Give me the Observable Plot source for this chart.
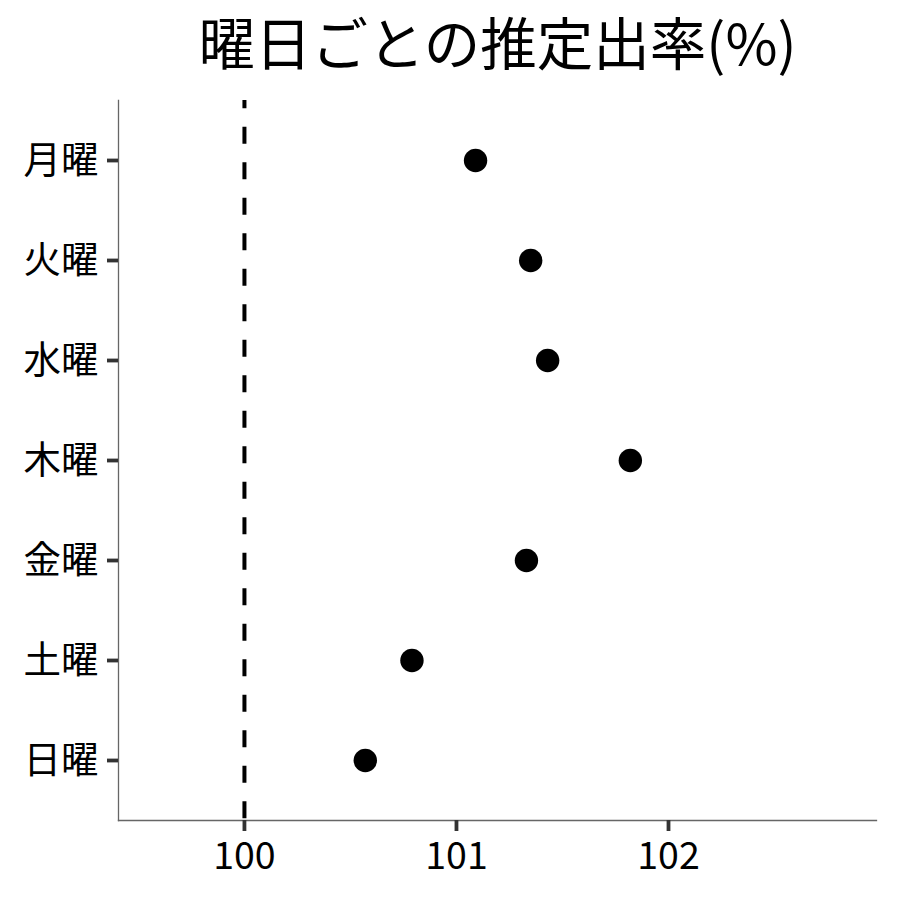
<!DOCTYPE html>
<html>
<head>
<meta charset="utf-8">
<script src="https://cdn.jsdelivr.net/npm/d3@7"></script>
<script src="https://cdn.jsdelivr.net/npm/@observablehq/plot@0.6"></script>
<style>
  html, body { margin: 0; padding: 0; background: #fff; }
  #chart svg { display: block; overflow: visible; }
</style>
</head>
<body>
<div id="chart"></div>
<script>
const titleText = "曜日ごとの推定出率(%)";
const days = ["月曜", "火曜", "水曜", "木曜", "金曜", "土曜", "日曜"];
const rates = [101.09, 101.35, 101.43, 101.82, 101.33, 100.79, 100.57];
const xTicks = [100, 101, 102];
const xDomain = [99.406, 102.981];
const refValue = [100];

const data = days.map((d, i) => ({day: d, rate: rates[i]}));
const font = "'Noto Sans CJK JP', 'Noto Sans', sans-serif";

const chart = Plot.plot({
  width: 900,
  height: 900,
  marginTop: 100,
  marginBottom: 80,
  marginLeft: 118,
  marginRight: 24,
  style: {fontFamily: font, background: "#fff", color: "#000"},
  x: {domain: xDomain, ticks: xTicks, label: null},
  y: {type: "point", domain: days, padding: 0.6, label: null},
  marks: [
    Plot.frame({anchor: "left", stroke: "#666", strokeWidth: 1.3}),
    Plot.frame({anchor: "bottom", stroke: "#666", strokeWidth: 1.3}),
    Plot.axisX({ticks: xTicks, tickFormat: d3.format("d"), tickSize: 11, tickPadding: 11, fontSize: 37.5, stroke: "#333", strokeWidth: 3.8, fill: "#000", label: null}),
    Plot.axisY({tickSize: 11, tickPadding: 9, fontSize: 37.5, stroke: "#333", strokeWidth: 3.8, fill: "#000", label: null}),
    Plot.ruleX(refValue, {stroke: "#000", strokeWidth: 4, strokeDasharray: "17,18.5", strokeDashoffset: 8.8}),
    Plot.dot(data, {x: "rate", y: "day", r: 11.7, fill: "#000", stroke: null}),
    Plot.text([titleText], {frameAnchor: "top", lineAnchor: "middle", dy: -54, fontSize: 56.5, fill: "#000", text: d => d})
  ]
});
document.getElementById("chart").appendChild(chart);
</script>
</body>
</html>
